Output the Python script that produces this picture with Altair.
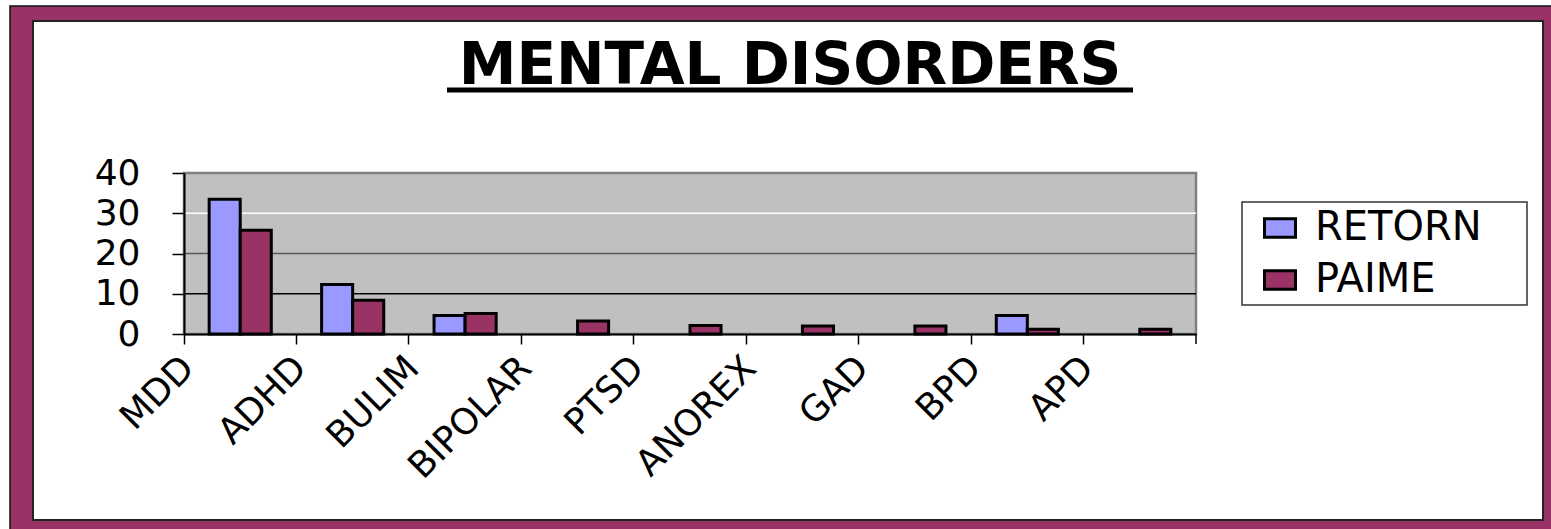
import altair as alt
import pandas as pd

# Chart values
categories = ["MDD", "ADHD", "BULIM", "BIPOLAR", "PTSD", "ANOREX", "GAD", "BPD", "APD"]
series_names = ["RETORN", "PAIME"]
retorn = [33.5, 12.3, 4.6, 0, 0, 0, 0, 4.6, 0]
paime = [25.8, 8.4, 5.1, 3.2, 2.1, 2.0, 2.0, 1.2, 1.2]
y_ticks = [0, 10, 20, 30, 40]
grid_values = [10, 20, 30]
grid_colors = ["#000000", "#5a5a5a", "#ffffff"]
series_colors = ["#9999FF", "#993366"]

W, H = 1012, 161          # plot area
PAD_L, PAD_T = 184, 173   # offsets of the plot area inside the page

rows = []
for cat, a, b in zip(categories, retorn, paime):
    rows.append({"category": cat, "series": "RETORN", "value": a})
    rows.append({"category": cat, "series": "PAIME", "value": b})
df = pd.DataFrame(rows)

one = pd.DataFrame({"k": [0]})

# Maroon frame around the page
outer = alt.Chart(one).mark_rect(fill="#993366", stroke="#111111", strokeWidth=1.5).encode(
    x=alt.value(10 - PAD_L), x2=alt.value(1551 - PAD_L + 20),
    y=alt.value(6 - PAD_T), y2=alt.value(529 - PAD_T + 20),
)
inner = alt.Chart(one).mark_rect(fill="white", stroke="#222222", strokeWidth=2).encode(
    x=alt.value(33 - PAD_L), x2=alt.value(1543 - PAD_L),
    y=alt.value(21 - PAD_T), y2=alt.value(520 - PAD_T),
)

# Gray plot area with a gray border on top and right
plot_bg = alt.Chart(one).mark_rect(fill="#C0C0C0", stroke="#808080", strokeWidth=2.5).encode(
    x=alt.value(0), x2=alt.value(W), y=alt.value(0), y2=alt.value(H),
)

# Horizontal gridlines, each in its own shade
grid_layers = [
    alt.Chart(pd.DataFrame({"v": [v]})).mark_rule(color=c, strokeWidth=1.5).encode(
        y=alt.Y("v:Q"), x=alt.value(0), x2=alt.value(W),
    )
    for v, c in zip(grid_values, grid_colors)
]

bars = alt.Chart(df).transform_filter("datum.value > 0").mark_bar(
    stroke="black", strokeWidth=3, opacity=1
).encode(
    x=alt.X(
        "category:N",
        sort=categories,
        scale=alt.Scale(domain=categories, paddingInner=0, paddingOuter=0),
        axis=alt.Axis(
            title=None, bandPosition=0, labelAngle=-45, labelAlign="right",
            labelBaseline="top", labelFont="DejaVu Sans", labelFontSize=36,
            labelColor="black", labelPadding=6, labelOffset=-64,
            tickColor="black", tickSize=10, tickWidth=1.5,
            domainColor="black", domainWidth=2, grid=False, labelOverlap=False,
            zindex=2,
        ),
    ),
    xOffset=alt.XOffset(
        "series:N", scale=alt.Scale(domain=series_names, paddingInner=0, paddingOuter=0.81)
    ),
    y=alt.Y(
        "value:Q",
        scale=alt.Scale(domain=[0, 40], nice=False),
        axis=alt.Axis(
            title=None, values=y_ticks, labelFont="DejaVu Sans", labelFontSize=36,
            labelColor="black", labelPadding=32, tickColor="black", tickSize=12,
            tickWidth=1.5, domainColor="black", domainWidth=2, grid=False,
            zindex=2,
        ),
    ),
    color=alt.Color(
        "series:N",
        scale=alt.Scale(domain=series_names, range=series_colors),
        legend=alt.Legend(
            title=None, orient="none", legendX=1260 - PAD_L, legendY=208 - PAD_T,
            symbolType="M-1,-0.6H1V0.6H-1Z", symbolSize=961,
            symbolStrokeColor="black", symbolStrokeWidth=3, symbolOpacity=1,
            labelFont="DejaVu Sans", labelFontSize=40, labelColor="black",
            labelLimit=400, labelOffset=15, rowPadding=12, padding=0, zindex=2,
        ),
    ),
)

# Closing tick at the right end of the category axis
end_tick = alt.Chart(one).mark_rule(color="black", strokeWidth=1.5).encode(
    x=alt.value(W), y=alt.value(H), y2=alt.value(H + 10),
)

# Legend frame
legend_box = alt.Chart(one).mark_rect(fill="white", stroke="#333333", strokeWidth=1.5).encode(
    x=alt.value(1242 - PAD_L), x2=alt.value(1527 - PAD_L),
    y=alt.value(202 - PAD_T), y2=alt.value(305 - PAD_T),
)

title = alt.Chart(one).mark_text(
    text="MENTAL DISORDERS", font="DejaVu Sans", fontWeight="bold", fontSize=58,
    color="black", align="center", baseline="alphabetic",
).encode(x=alt.value(790 - PAD_L), y=alt.value(84 - PAD_T))

underline = alt.Chart(one).mark_rule(color="black", strokeWidth=5).encode(
    x=alt.value(447 - PAD_L), x2=alt.value(1133 - PAD_L), y=alt.value(90 - PAD_T),
)

chart = alt.layer(
    outer, inner, legend_box, title, underline, plot_bg, *grid_layers, bars, end_tick
).properties(
    width=W, height=H,
    autosize=alt.AutoSizeParams(type="none"),
    padding={"left": PAD_L, "top": PAD_T, "right": 1551 - PAD_L - W, "bottom": 529 - PAD_T - H},
    background="white",
).configure_view(stroke=None)

chart.save("out.html", embed_options={"renderer": "svg", "actions": False})
